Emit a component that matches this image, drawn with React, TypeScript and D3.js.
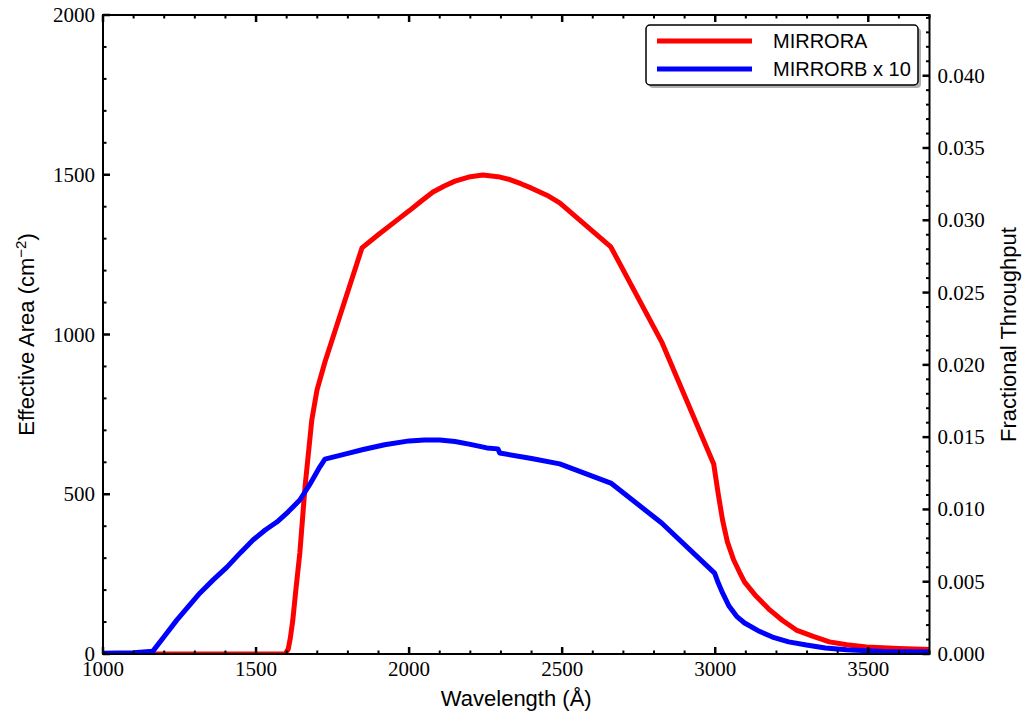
import React from "react";
import * as d3 from "d3";

const redWl = [1000, 1595, 1605, 1612, 1620, 1630, 1643, 1660, 1682, 1699, 1725, 1846, 1900, 1970, 2000, 2040, 2078, 2115, 2150, 2200, 2241, 2290, 2329, 2365, 2400, 2450, 2492, 2659, 2825, 2995, 3010, 3024, 3040, 3060, 3080, 3096, 3130, 3178, 3220, 3265, 3320, 3373, 3430, 3494, 3600, 3700];
const redVal = [0, 0, 15, 50, 106, 200, 316, 523, 732, 826, 914, 1271, 1313, 1365, 1387, 1418, 1446, 1465, 1480, 1494, 1499, 1494, 1485, 1472, 1458, 1436, 1412, 1274, 977, 595, 500, 419, 350, 295, 255, 225, 185, 138, 105, 75, 55, 38, 29, 22, 17, 14];

const blueWl = [1000, 1100, 1163, 1200, 1241, 1280, 1317, 1360, 1405, 1450, 1490, 1530, 1568, 1605, 1643, 1675, 1708, 1725, 1800, 1850, 1920, 2000, 2050, 2100, 2150, 2200, 2254, 2290, 2296, 2400, 2492, 2659, 2825, 2998, 3010, 3024, 3045, 3070, 3096, 3140, 3187, 3240, 3298, 3360, 3429, 3550, 3700];
const blueVal = [2, 4, 9, 55, 106, 150, 191, 232, 272, 318, 357, 388, 413, 445, 482, 530, 585, 610, 628, 640, 655, 667, 670, 670, 665, 656, 645, 642, 629, 612, 595, 535, 410, 253, 222, 191, 150, 118, 97, 73, 53, 38, 28, 19, 13, 8, 6];

const xMajor = [1000, 1500, 2000, 2500, 3000, 3500];
const yMajor = [0, 500, 1000, 1500, 2000];
const y2Major = [0, 0.005, 0.01, 0.015, 0.02, 0.025, 0.03, 0.035, 0.04];
const seriesNames = ["MIRRORA", "MIRRORB x 10"];

const W = 1026, H = 714;
const L = 103, R = 929.5, T = 15, B = 654;

export default function App() {
  const x = d3.scaleLinear().domain([1000, 3700]).range([L, R]);
  const y = d3.scaleLinear().domain([0, 2000]).range([B, T]);
  const y2 = d3.scaleLinear().domain([0, 0.0442]).range([B, T]);

  const line = d3.line<[number, number]>().x(d => x(d[0])).y(d => y(d[1]));
  const redPts = redWl.map((w, i) => [w, redVal[i]] as [number, number]);
  const bluePts = blueWl.map((w, i) => [w, blueVal[i]] as [number, number]);

  const xMinor = d3.range(1000, 3701, 100).filter(v => v % 500 !== 0);
  const yMinor = d3.range(0, 2001, 100).filter(v => v % 500 !== 0);
  const y2Minor = d3.range(0, 45).map(i => i / 1000).filter((v, i) => i % 5 !== 0);

  const serif = "'Liberation Serif', 'Times New Roman', serif";
  const sans = "'Liberation Sans', Arial, sans-serif";
  const majL = 7, minL = 3.5;

  return (
    <svg width={W} height={H} style={{ position: "absolute", left: 0, top: 0, background: "#fff" }}>
      <rect x={0} y={0} width={W} height={H} fill="#fff" />
      <defs>
        <clipPath id="clip">
          <rect x={L} y={T} width={R - L} height={B - T} />
        </clipPath>
      </defs>
      <g clipPath="url(#clip)">
        <path d={line(redPts) || ""} fill="none" stroke="#ff0000" strokeWidth={5} strokeLinejoin="round" strokeLinecap="butt" />
        <path d={line(bluePts) || ""} fill="none" stroke="#0000ff" strokeWidth={5} strokeLinejoin="round" strokeLinecap="butt" />
      </g>
      {/* frame */}
      <rect x={L} y={T} width={R - L} height={B - T} fill="none" stroke="#000" strokeWidth={2} />
      {/* x ticks bottom & top */}
      {xMajor.map(v => (
        <g key={"xM" + v}>
          <line x1={x(v)} x2={x(v)} y1={B} y2={B - majL} stroke="#000" strokeWidth={2.5} />
          <line x1={x(v)} x2={x(v)} y1={T} y2={T + majL} stroke="#000" strokeWidth={2.5} />
          <text x={x(v)} y={B + 22} fontFamily={serif} fontSize={21} textAnchor="middle">{v}</text>
        </g>
      ))}
      {xMinor.map(v => (
        <g key={"xm" + v}>
          <line x1={x(v)} x2={x(v)} y1={B} y2={B - minL} stroke="#000" strokeWidth={2} />
          <line x1={x(v)} x2={x(v)} y1={T} y2={T + minL} stroke="#000" strokeWidth={2} />
        </g>
      ))}
      {/* left y ticks */}
      {yMajor.map(v => (
        <g key={"yM" + v}>
          <line x1={L} x2={L + majL} y1={y(v)} y2={y(v)} stroke="#000" strokeWidth={2.5} />
          <text x={L - 8} y={y(v) + 7} fontFamily={serif} fontSize={21} textAnchor="end">{v}</text>
        </g>
      ))}
      {yMinor.map(v => (
        <line key={"ym" + v} x1={L} x2={L + minL} y1={y(v)} y2={y(v)} stroke="#000" strokeWidth={2} />
      ))}
      {/* right y ticks */}
      {y2Major.map(v => (
        <g key={"y2M" + v}>
          <line x1={R} x2={R - majL} y1={y2(v)} y2={y2(v)} stroke="#000" strokeWidth={2.5} />
          <text x={R + 8} y={y2(v) + 7} fontFamily={serif} fontSize={21} textAnchor="start">{v.toFixed(3)}</text>
        </g>
      ))}
      {y2Minor.map(v => (
        <line key={"y2m" + v} x1={R} x2={R - minL} y1={y2(v)} y2={y2(v)} stroke="#000" strokeWidth={2} />
      ))}
      {/* axis labels */}
      <text x={(L + R) / 2} y={706} fontFamily={sans} fontSize={22} textAnchor="middle">Wavelength (Å)</text>
      <text transform={`translate(34,${(T + B) / 2}) rotate(-90)`} fontFamily={sans} fontSize={22} textAnchor="middle">
        Effective Area (cm<tspan baselineShift="super" fontSize={15}>−2</tspan>)
      </text>
      <text transform={`translate(1016,${(T + B) / 2}) rotate(-90)`} fontFamily={sans} fontSize={22} textAnchor="middle">Fractional Throughput</text>
      {/* legend */}
      <g>
        <rect x={649} y={28} width={272} height={60} rx={4} fill="#b0b0b0" />
        <rect x={646} y={25} width={272} height={60} rx={4} fill="#fff" stroke="#000" strokeWidth={1.5} />
        <line x1={657} x2={752} y1={41} y2={41} stroke="#ff0000" strokeWidth={5} />
        <line x1={657} x2={752} y1={69} y2={69} stroke="#0000ff" strokeWidth={5} />
        <text x={773} y={48} fontFamily={sans} fontSize={20}>{seriesNames[0]}</text>
        <text x={773} y={76} fontFamily={sans} fontSize={20}>{seriesNames[1]}</text>
      </g>
    </svg>
  );
}
